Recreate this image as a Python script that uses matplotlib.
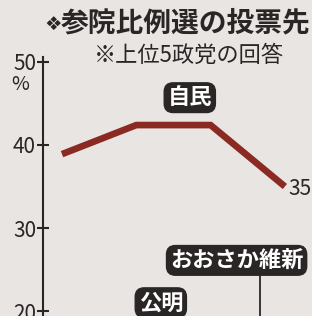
import matplotlib.pyplot as plt

# survey rounds (no x labels shown in the crop) and share for 自民
rounds = [0, 1, 2, 3]
ldp_share = [38.9, 42.4, 42.4, 35.0]
last_label = "35"

title = "参院比例選の投票先"
subtitle = "※上位5政党の回答"
yticks = [20, 30, 40, 50]
party_tags = ["自民", "おおさか維新", "公明"]

plt.rcParams['font.family'] = ['Noto Sans CJK JP', 'DejaVu Sans']

bg = '#e9e5e3'
ink = '#2b2626'
red = '#8a2a22'

fig = plt.figure(figsize=(3.12, 3.16), dpi=100, facecolor=bg)
ax = fig.add_axes([43 / 312, 0, 1 - 43 / 312, 1 - 57 / 316])
ax.set_facecolor(bg)

# Line
ax.plot(rounds, ldp_share, color=red, lw=4.8, solid_capstyle='butt',
        solid_joinstyle='miter')
ax.text(rounds[-1] + 0.05, ldp_share[-1] - 0.3, last_label, fontsize=15,
        color=ink, va='center', ha='left')

ax.set_xlim(-0.256, 3.365)
ax.set_ylim(19.4, 50.6)

for s in ['top', 'right', 'bottom']:
    ax.spines[s].set_visible(False)
ax.spines['left'].set_color(ink)
ax.spines['left'].set_linewidth(1.5)
ax.set_xticks([])
ax.set_yticks(yticks)
ax.set_yticklabels([str(v) for v in yticks], fontsize=15, color=ink)
ax.tick_params(axis='y', direction='inout', length=8, width=1.5,
               colors=ink, pad=1)
fig.text(20 / 312, 1 - 84 / 316, "%", fontsize=14, color=ink,
         ha='center', va='center')

# Title and note
fig.text(44 / 312, 1 - 24 / 316, "❖", fontsize=14, color=ink,
         ha='left', va='center', family=['DejaVu Sans'])
fig.text(186 / 312, 1 - 23 / 316, title, fontsize=20, fontweight='bold',
         color=ink, ha='center', va='center')
fig.text(189 / 312, 1 - 55 / 316, subtitle, fontsize=16, color=ink,
         ha='center', va='center')

# Party tags
box = dict(boxstyle='round,pad=0.15,rounding_size=0.4', fc=ink, ec=ink)
tag_pos = [(1.72, 45.7), (2.35, 26.1), (1.33, 21.0)]
for name, (tx, ty) in zip(party_tags, tag_pos):
    ax.text(tx, ty, name, fontsize=16, fontweight='bold', color='white',
            ha='center', va='center', bbox=box)
ax.plot([2.66, 2.66], [24.7, 19.4], color=ink, lw=1.3)

fig.savefig('out.png', dpi=100, facecolor=bg)
